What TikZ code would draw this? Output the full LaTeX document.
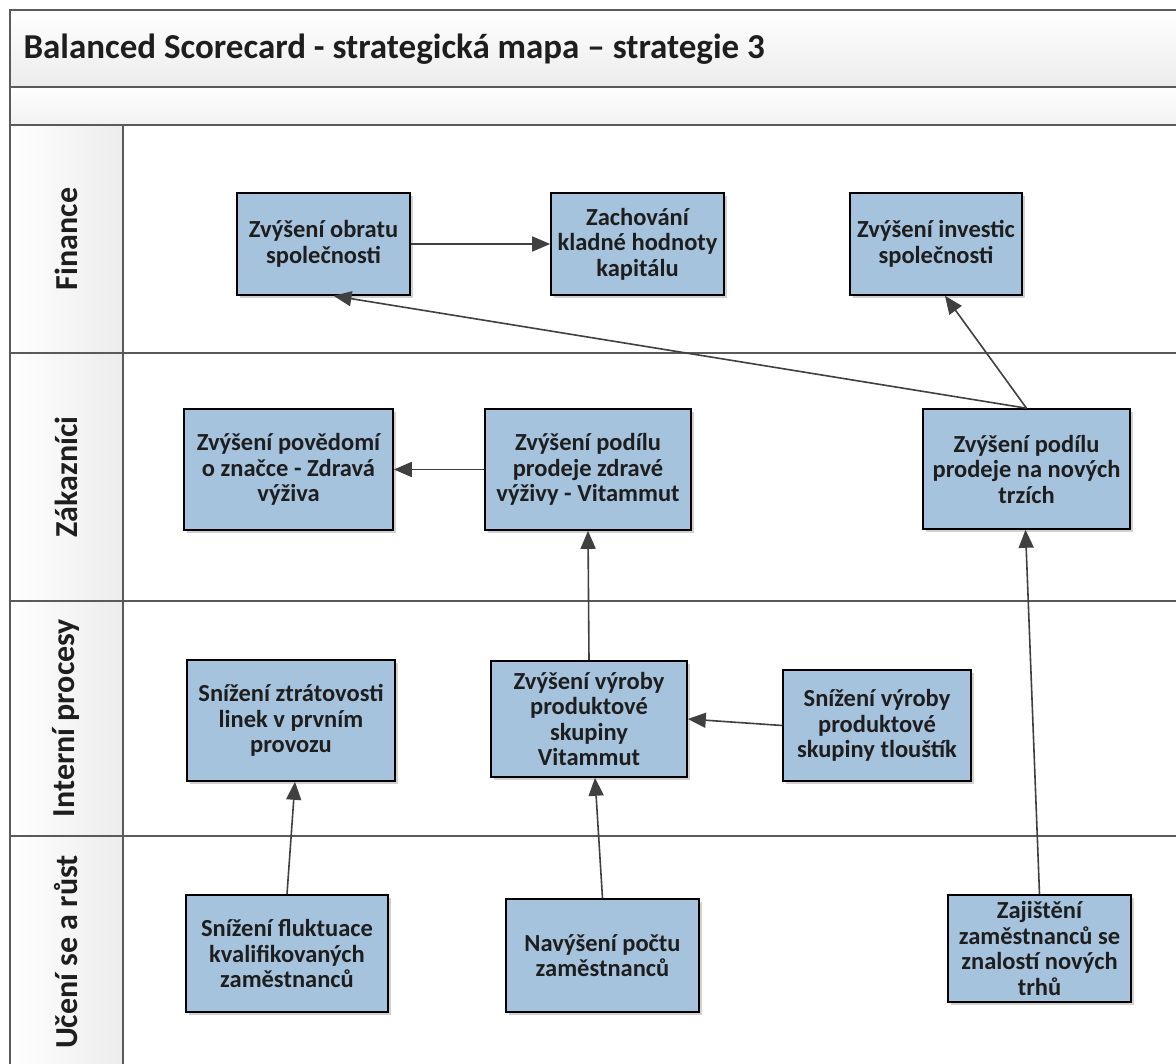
\documentclass[tikz,border=0pt]{standalone}
\usepackage{fontspec}
\setmainfont{Carlito}
\usetikzlibrary{arrows.meta,shadows}

\definecolor{boxfill}{RGB}{166,195,222}
\definecolor{framegray}{RGB}{90,90,90}
\definecolor{arrowgray}{RGB}{64,64,64}
\definecolor{inkdark}{RGB}{30,30,30}
\definecolor{bandgray}{RGB}{236,236,236}

\tikzset{
  objective/.style={draw=black, line width=1.6pt, fill=boxfill, inner sep=0pt,
    align=center, font=\bfseries\fontsize{24.5}{25.5}\selectfont, text=inkdark,
    drop shadow={shadow xshift=3pt, shadow yshift=-3pt, fill=black, opacity=0.18}},
  link/.style={draw=arrowgray, line width=1.6pt,
    -{Triangle[length=18pt,width=15pt]}},
  frameline/.style={draw=framegray, line width=1.8pt},
  lanelabel/.style={rotate=90, font=\bfseries\fontsize{32}{36}\selectfont, text=inkdark}
}

\begin{document}
\begin{tikzpicture}[x=1pt, y=-1pt]
\useasboundingbox (0,0) rectangle (1176,1064);
\clip (0,0) rectangle (1176,1064);
\fill[white] (0,0) rectangle (1176,1064);

% header bands
\shade[top color=white, bottom color=bandgray] (10,10) rectangle (1200,87);
\shade[top color=white, bottom color=bandgray!70] (10,87) rectangle (1200,125);
% lane label column
\shade[left color=white, right color=bandgray] (10,125) rectangle (123,1100);

% frame and lane separators
\draw[frameline] (1200,10) -- (10,10) -- (10,1100);
\draw[frameline] (10,87) -- (1200,87);
\draw[frameline] (10,125) -- (1200,125);
\draw[frameline] (123,125) -- (123,1100);
\draw[frameline] (10,353) -- (1200,353);
\draw[frameline] (10,601) -- (1200,601);
\draw[frameline] (10,836) -- (1200,836);

% title
\node[anchor=west, font=\bfseries\fontsize{35}{40}\selectfont, text=inkdark] (title) at (20,49)
  {Balanced Scorecard - strategická mapa – strategie 3};

% lane labels
\node[lanelabel] (lfin) at (66,239) {Finance};
\node[lanelabel] (lzak) at (66,477) {Zákazníci};
\node[lanelabel] (lint) at (66,718) {Interní procesy};
\node[lanelabel] (luc)  at (66,952) {Učení se a růst};

% Finance
\node[objective, minimum width=173pt, minimum height=102pt] (b1) at (323.5,244)
  {Zvýšení obratu\\společnosti};
\node[objective, minimum width=173pt, minimum height=102pt] (b2) at (637.5,244)
  {Zachování\\kladné hodnoty\\kapitálu};
\node[objective, minimum width=172pt, minimum height=102pt] (b3) at (936,244)
  {Zvýšení investic\\společnosti};

% Zákazníci
\node[objective, minimum width=209pt, minimum height=121pt] (b4) at (288.5,469.5)
  {Zvýšení povědomí\\o značce - Zdravá\\výživa};
\node[objective, minimum width=206pt, minimum height=121pt] (b5) at (588,469.5)
  {Zvýšení podílu\\prodeje zdravé\\výživy - Vitammut};
\node[objective, minimum width=207pt, minimum height=120pt] (b6) at (1026.5,469)
  {Zvýšení podílu\\prodeje na nových\\trzích};

% Interní procesy
\node[objective, minimum width=208pt, minimum height=121pt] (b7) at (291,720.5)
  {Snížení ztrátovosti\\linek v prvním\\provozu};
\node[objective, minimum width=196pt, minimum height=116pt] (b8) at (589,719)
  {Zvýšení výroby\\produktové\\skupiny\\Vitammut};
\node[objective, minimum width=188pt, minimum height=111pt] (b9) at (877,725.5)
  {Snížení výroby\\produktové\\skupiny tlouštík};

% Učení se a růst
\node[objective, minimum width=202pt, minimum height=117pt] (b10) at (287,953.5)
  {Snížení fluktuace\\kvalifikovaných\\zaměstnanců};
\node[objective, minimum width=193pt, minimum height=113pt] (b11) at (602.5,955.5)
  {Navýšení počtu\\zaměstnanců};
\node[objective, minimum width=183pt, minimum height=107pt] (b12) at (1039.5,948.5)
  {Zajištění\\zaměstnanců se\\znalostí nových\\trhů};

% cause and effect links
\draw[link] (b1.east) -- (b2.west);
\draw[link] (b6.north) -- ([xshift=10pt]b1.south);
\draw[link] (b6.north) -- ([xshift=9pt]b3.south);
\draw[link] (b5.west) -- (b4.east);
\draw[link] (b8.north) -- (b5.south);
\draw[link] (b9.west) -- (b8.east);
\draw[link] (b10.north) -- ([xshift=4pt]b7.south);
\draw[link] (b11.north) -- ([xshift=6pt]b8.south);
\draw[link] (b12.north) -- ([xshift=-1pt]b6.south);
\end{tikzpicture}
\end{document}
